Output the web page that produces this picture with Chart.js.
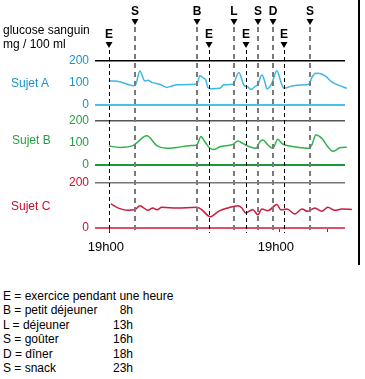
<!DOCTYPE html>
<html>
<head>
<meta charset="utf-8">
<script src="https://cdn.jsdelivr.net/npm/chart.js@4.4.0/dist/chart.umd.min.js"></script>
<style>
  body { margin: 0; background: #fff; }
  #page { position: relative; width: 365px; height: 379px; overflow: hidden; font-family: "Liberation Sans", Arial, sans-serif; }
  #wrap { position: absolute; left: 0; top: 0; width: 365px; height: 270px; }
  .txt { position: absolute; font-size: 12px; line-height: 14px; color: #000; white-space: nowrap; }
  .row { position: absolute; left: 3px; font-size: 12px; line-height: 14px; white-space: nowrap; }
  .row .t { position: absolute; left: 104px; width: 26px; text-align: right; }
  #rule { position: absolute; left: 358px; top: 0; width: 1.5px; height: 265px; background: #000; }
</style>
</head>
<body>
<div id="page">
  <div id="wrap"><canvas id="glucoseChart"></canvas></div>
  <div class="txt" style="left:3px; top:23px;">glucose sanguin</div>
  <div class="txt" style="left:3px; top:37px;">mg / 100 ml</div>
  <div class="txt" style="left:11px; top:76px; color:#1b92c8;">Sujet A</div>
  <div class="txt" style="left:12px; top:133px; color:#22a040;">Sujet B</div>
  <div class="txt" style="left:11px; top:199px; color:#c8102e;">Sujet C</div>
  <div id="legend"></div>
  <div id="rule"></div>
</div>
<script>
// heures comptees a partir de 19h00 le premier jour
var eventLabels = ['E', 'S', 'B', 'E', 'L', 'E', 'S', 'D', 'E', 'S'];
var eventHours = [-0.1, 3.53, 12.28, 13.98, 17.51, 19.2, 20.9, 23.01, 24.57, 28.24];

var xTickHours = [0, 24, 30.7];
var xTickLabels = ['19h00', '19h00', ''];
var yTickValues = [0, 100, 200];

var sujetAHours = [-0.14, 1.41, 3.25, 3.67, 4.24, 4.94, 5.36, 5.93, 7.06, 8.05, 8.75, 9.46, 12.28, 12.71, 13.13, 13.55, 13.84, 14.4, 15.53, 16.09, 17.37, 18.21, 18.92, 19.48, 19.91, 20.47, 20.9, 21.46, 21.88, 22.17, 22.59, 22.87, 23.58, 24.14, 24.57, 25.7, 27.11, 28.1, 28.52, 29.08, 29.65, 30.5, 31.34, 32.47, 33.46];
var sujetAValues = [110, 106, 88, 95, 155, 109, 113, 103, 94, 80, 86, 92, 95, 133, 124, 113, 79, 74, 76, 92, 94, 148, 91, 82, 71, 83, 94, 136, 106, 73, 83, 98, 156, 106, 76, 86, 91, 94, 125, 144, 143, 130, 105, 88, 76];

var sujetBHours = [-0.14, 1.41, 3.25, 5.22, 6.63, 8.05, 9.46, 11.29, 12.28, 12.85, 13.41, 14.12, 14.68, 15.53, 17.37, 18.07, 18.78, 19.48, 20.61, 21.18, 21.6, 22.31, 23.01, 23.72, 24.28, 24.71, 26.12, 28.1, 28.52, 29.08, 29.93, 30.78, 31.48, 32.47, 33.46];
var sujetBValues = [86, 80, 88, 133, 88, 76, 80, 88, 91, 129, 106, 76, 70, 83, 94, 109, 98, 86, 76, 106, 114, 91, 76, 117, 98, 91, 83, 76, 91, 136, 121, 83, 62, 78, 81];

var sujetCHours = [0.14, 1.41, 2.54, 3.53, 4.24, 4.66, 5.36, 6.07, 6.64, 7.34, 9.46, 12.28, 12.99, 13.84, 14.26, 14.82, 15.53, 16.66, 18.07, 18.64, 19.2, 19.91, 20.19, 20.9, 21.46, 22.31, 23.58, 24.14, 24.99, 26.12, 27.11, 27.95, 28.94, 29.93, 30.78, 31.77, 32.76, 34.17];
var sujetCValues = [107, 86, 79, 81, 99, 92, 79, 89, 81, 92, 89, 92, 81, 55, 50, 62, 77, 89, 99, 89, 67, 79, 81, 59, 84, 77, 104, 81, 84, 62, 84, 74, 89, 74, 92, 79, 84, 82];

var legendLines = ['E = exercice pendant une heure', 'B = petit déjeuner', 'L = déjeuner', 'S = goûter', 'D = dîner', 'S = snack'];
var legendTimes = ['', '8h', '13h', '16h', '18h', '23h'];

var legend = document.getElementById('legend');
legendLines.forEach(function(txt, i) {
    var d = document.createElement('div');
    d.className = 'row';
    d.style.top = (289 + i * 14.4) + 'px';
    d.textContent = txt;
    if (legendTimes[i]) {
        var t = document.createElement('span');
        t.className = 't';
        t.textContent = legendTimes[i];
        d.appendChild(t);
    }
    legend.appendChild(d);
});

function pts(hours, values) {
    return hours.map(function(h, i) { return { x: h, y: values[i] }; });
}

function panelAxis(min, weight, labelColor, topColor, zeroColor) {
    return {
        type: 'linear',
        position: 'left',
        stack: 'panels',
        stackWeight: weight,
        min: min,
        max: 200,
        border: { display: false },
        grid: {
            drawTicks: false,
            color: function(c) {
                if (c.tick.value === 200) return topColor;
                if (c.tick.value === 0) return zeroColor;
                return 'rgba(0,0,0,0)';
            },
            lineWidth: function(c) { return c.tick.value === 0 ? 2 : 1.5; }
        },
        ticks: { color: labelColor, padding: 6, font: { family: '"Liberation Sans", Arial', size: 12 } },
        afterBuildTicks: function(s) { s.ticks = yTickValues.map(function(v) { return { value: v }; }); },
        afterFit: function(s) { s.width = 95; }
    };
}

var eventPlugin = {
    id: 'events',
    afterDatasetsDraw: function(chart) {
        var ctx = chart.ctx, xs = chart.scales.x, bottom = chart.chartArea.bottom;
        eventLabels.forEach(function(lab, i) {
            var px = Math.round(xs.getPixelForValue(eventHours[i]));
            var ex = lab === 'E';
            var ly = ex ? 35 : 12;
            ctx.save();
            ctx.fillStyle = '#000';
            ctx.font = 'bold 12px "Liberation Sans", Arial';
            ctx.textAlign = 'center';
            ctx.textBaseline = 'middle';
            ctx.fillText(lab, px, ly);
            ctx.beginPath();
            ctx.moveTo(px - 3.5, ly + 7);
            ctx.lineTo(px + 3.5, ly + 7);
            ctx.lineTo(px, ly + 13);
            ctx.closePath();
            ctx.fill();
            ctx.beginPath();
            ctx.setLineDash(ex ? [4, 3] : [5, 4]);
            ctx.lineWidth = ex ? 1 : 2;
            ctx.strokeStyle = ex ? '#000' : '#7a7a7a';
            var lx = ex ? px + 0.5 : px;
            ctx.moveTo(lx, ly + 15);
            ctx.lineTo(lx, bottom + (ex ? 5 : 3));
            ctx.stroke();
            ctx.restore();
        });
    }
};

var ctx = document.getElementById('glucoseChart').getContext('2d');
var glucoseChart = new Chart(ctx, {
    type: 'line',
    data: {
        datasets: [
            { label: 'Sujet A', data: pts(sujetAHours, sujetAValues), yAxisID: 'yA', borderColor: '#3db7e6', borderWidth: 1.5 },
            { label: 'Sujet B', data: pts(sujetBHours, sujetBValues), yAxisID: 'yB', borderColor: '#2fb34a', borderWidth: 1.5 },
            { label: 'Sujet C', data: pts(sujetCHours, sujetCValues), yAxisID: 'yC', borderColor: '#cc1a3c', borderWidth: 1.5 }
        ]
    },
    options: {
        responsive: true,
        maintainAspectRatio: false,
        animation: false,
        layout: { padding: { top: 61, right: 20, left: 0, bottom: 0 } },
        elements: { point: { radius: 0 }, line: { cubicInterpolationMode: 'monotone' } },
        datasets: { line: { clip: { left: 5, right: 10, top: 5, bottom: 5 } } },
        plugins: { legend: { display: false }, tooltip: { enabled: false } },
        scales: {
            x: {
                type: 'linear',
                min: -2.1,
                max: 33.2,
                border: { display: false },
                grid: { drawOnChartArea: false, drawTicks: true, tickLength: 4, color: '#444' },
                afterBuildTicks: function(s) { s.ticks = xTickHours.map(function(v) { return { value: v }; }); },
                ticks: {
                    callback: function(v, i) { return xTickLabels[i]; },
                    color: '#000',
                    padding: 8,
                    labelOffset: -4,
                    maxRotation: 0,
                    autoSkip: false,
                    font: { family: '"Liberation Sans", Arial', size: 13 }
                },
                afterFit: function(s) { s.height = 42; }
            },
            // the stack is laid out bottom-up, so the lowest panel comes first
            yC: panelAxis(0, 45, '#c8102e', '#777', '#e0506a'),
            yB: panelAxis(-81.8, 62, '#22a040', '#555', '#1a9a3a'),
            yA: panelAxis(-72.7, 60, '#1b92c8', '#000', '#4dbfea')
        }
    },
    plugins: [eventPlugin]
});
</script>
</body>
</html>
